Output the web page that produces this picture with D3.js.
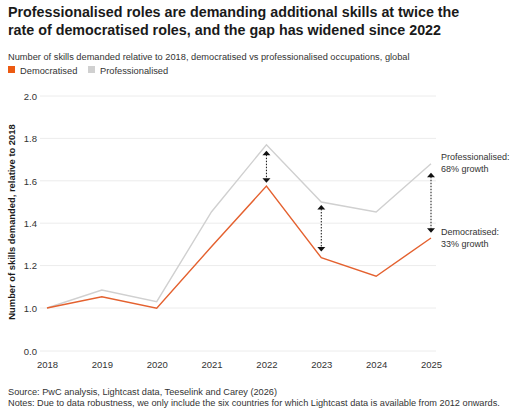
<!DOCTYPE html>
<html lang="en">
<head>
<meta charset="UTF-8">
<title>Skills demanded</title>
<script src="https://cdnjs.cloudflare.com/ajax/libs/d3/7.8.5/d3.min.js"></script>
<style>
    body { margin: 0; background: #fff; font-family: "Liberation Sans", Arial, sans-serif; }
    svg text { fill: #1a1a1a; }
    .grid line { stroke: #ececec; stroke-width: 1; }
    .tick text { font-size: 9.5px; fill: #333; }
</style>
</head>
<body>
<svg id="chart" width="515" height="415"></svg>
<script>
    const years = [2018, 2019, 2020, 2021, 2022, 2023, 2024, 2025];
    const democratised = [1.0, 1.053, 0.995, 1.29, 1.575, 1.237, 1.15, 1.33];
    const professionalised = [1.0, 1.085, 1.03, 1.454, 1.77, 1.50, 1.453, 1.68];
    const yTicks = [0, 1.0, 1.2, 1.4, 1.6, 1.8, 2.0];
    // gap arrows: year, top tip, bottom tip
    const gapYears = [2022, 2023, 2025];
    const gapTop = [1.742, 1.486, 1.638];
    const gapBottom = [1.591, 1.266, 1.355];

    const orange = "#e4612f";
    const grey = "#d0d0d0";

    const svg = d3.select("#chart");

    // title + subtitle
    const title = svg.append("text").attr("x", 8).attr("y", 17)
        .style("font-size", "14.3px").style("font-weight", "bold");
    title.append("tspan").attr("x", 8).attr("dy", 0)
        .text("Professionalised roles are demanding additional skills at twice the");
    title.append("tspan").attr("x", 8).attr("dy", 17.5)
        .text("rate of democratised roles, and the gap has widened since 2022");

    svg.append("text").attr("x", 8).attr("y", 60).style("font-size", "9.25px").style("fill", "#333")
        .text("Number of skills demanded relative to 2018, democratised vs professionalised occupations, global");

    // legend
    const legend = [["Democratised", "#ec5a12", 8], ["Professionalised", grey, 88]];
    legend.forEach(([name, col, x]) => {
        svg.append("rect").attr("x", x).attr("y", 66).attr("width", 7).attr("height", 7).attr("fill", col);
        svg.append("text").attr("x", x + 12).attr("y", 74).style("font-size", "9.3px").style("fill", "#333").text(name);
    });

    // scales: 0.0 sits one step below 1.0 (broken axis)
    const x = d3.scalePoint().domain(years).range([47, 431]);
    const y = d3.scaleLinear().domain([0, 1, 2]).range([351, 308, 96]);

    // grid
    svg.append("g").attr("class", "grid")
        .selectAll("line").data(yTicks).enter().append("line")
        .attr("x1", 40).attr("x2", 436)
        .attr("y1", d => y(d)).attr("y2", d => y(d));

    const yAxis = svg.append("g").attr("transform", "translate(37,0)")
        .call(d3.axisLeft(y).tickValues(yTicks).tickFormat(d3.format(".1f")).tickSize(0).tickPadding(0));
    yAxis.select(".domain").remove();
    yAxis.selectAll("text").attr("dy", "0.35em");

    const xAxis = svg.append("g").attr("transform", "translate(0,358)")
        .call(d3.axisBottom(x).tickSize(0).tickPadding(3));
    xAxis.select(".domain").remove();

    svg.append("text")
        .attr("transform", "translate(15,222) rotate(-90)")
        .attr("text-anchor", "middle")
        .style("font-size", "9.4px").style("font-weight", "bold")
        .text("Number of skills demanded, relative to 2018");

    // lines
    const line = d3.line().x((d, i) => x(years[i])).y(d => y(d));
    svg.append("path").datum(professionalised).attr("d", line)
        .attr("fill", "none").attr("stroke", grey).attr("stroke-width", 1.4);
    svg.append("path").datum(democratised).attr("d", line)
        .attr("fill", "none").attr("stroke", orange).attr("stroke-width", 1.4);

    // arrows
    const arrows = svg.append("g");
    gapYears.forEach((yr, i) => {
        const ax = x(yr), y1 = y(gapTop[i]), y2 = y(gapBottom[i]);
        arrows.append("line").attr("x1", ax).attr("x2", ax).attr("y1", y1 + 4).attr("y2", y2 - 4)
            .attr("stroke", "#111").attr("stroke-width", 1).attr("stroke-dasharray", "1.5,1.5");
        arrows.append("path").attr("d", `M${ax},${y1}L${ax - 4},${y1 + 4.5}L${ax + 4},${y1 + 4.5}Z`).attr("fill", "#111");
        arrows.append("path").attr("d", `M${ax},${y2}L${ax - 4},${y2 - 4.5}L${ax + 4},${y2 - 4.5}Z`).attr("fill", "#111");
    });

    // annotations
    const notes = [["Professionalised:", "68% growth", 160], ["Democratised:", "33% growth", 235]];
    notes.forEach(([a, b, ty]) => {
        const t = svg.append("text").attr("x", 441).attr("y", ty).style("font-size", "9px").style("fill", "#333");
        t.append("tspan").attr("x", 441).text(a);
        t.append("tspan").attr("x", 441).attr("dy", 11.5).text(b);
    });

    // footer
    svg.append("text").attr("x", 8).attr("y", 395).style("font-size", "9.2px").style("fill", "#333")
        .text("Source: PwC analysis, Lightcast data, Teeselink and Carey (2026)");
    svg.append("text").attr("x", 8).attr("y", 406).style("font-size", "9.2px").style("fill", "#333")
        .text("Notes: Due to data robustness, we only include the six countries for which Lightcast data is available from 2012 onwards.");
</script>
</body>
</html>
